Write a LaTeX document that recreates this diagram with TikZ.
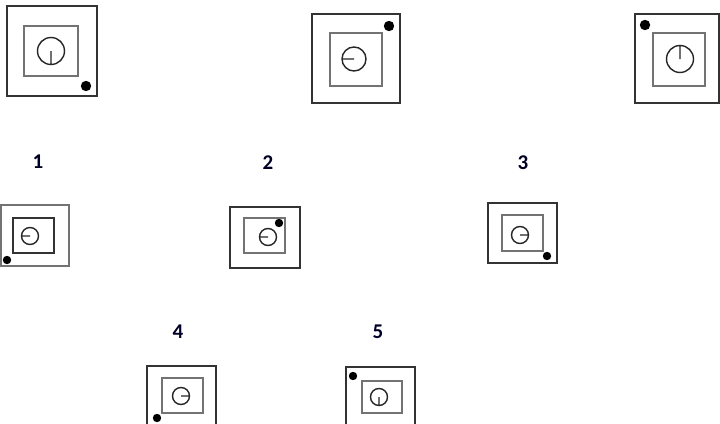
\documentclass[tikz,border=0pt]{standalone}
\usepackage{fontspec}
\newfontfamily\numfont{Carlito Bold}
\begin{document}
\begin{tikzpicture}[x=1pt,y=-1pt,
  outer/.style={draw=black!80,line width=1.8pt},
  outerg/.style={draw=black!55,line width=2pt},
  inner/.style={draw=black!55,line width=2.4pt},
  innerd/.style={draw=black!80,line width=1.4pt},
  dial/.style={draw=black!85,line width=1.4pt},
  dot/.style={fill=black},
  num/.style={font=\numfont\fontsize{21}{21}\selectfont,text=black!85!blue,inner sep=0pt}]
\clip (0,0) rectangle (720,423);
\fill[white] (0,0) rectangle (720,423);
% top figure A
\draw[outer] (7,6) rectangle (97,96);
\draw[inner] (24,26) rectangle (78,76);
\draw[dial] (51,51) circle (13.5) (51,51) -- (51,64.5);
\fill[dot] (86,86) circle (5.2);
% top figure B
\draw[outer] (312,14) rectangle (400,103);
\draw[inner] (330,33) rectangle (382,86);
\draw[dial] (354,59) circle (12) (354,59) -- (342,59);
\fill[dot] (389,26) circle (5.2);
% top figure C
\draw[outer] (635,14) rectangle (719,103);
\draw[inner] (653,33) rectangle (705,86);
\draw[dial] (680,59) circle (13.5) (680,59) -- (680,45.5);
\fill[dot] (645,25) circle (5.2);
% labels
\node[num] (n1) at (38,162) {1};
\node[num] (n2) at (268,163) {2};
\node[num] (n3) at (523,163) {3};
\node[num] (n4) at (178,332) {4};
\node[num] (n5) at (378,332) {5};
% option 1
\draw[outerg] (1,205) rectangle (69,266);
\draw[innerd] (13,218) rectangle (54,253);
\draw[dial] (30,236) circle (8.5) (30,236) -- (21.5,236);
\fill[dot] (7,260) circle (4.2);
% option 2
\draw[outer] (230,207) rectangle (300,268);
\draw[inner] (244,218) rectangle (285,253);
\draw[dial] (268,237) circle (8.5) (268,237) -- (259.5,237);
\fill[dot] (279,223) circle (4.2);
% option 3
\draw[outer] (488,203) rectangle (557,263);
\draw[inner] (502,215) rectangle (543,251);
\draw[dial] (520,235) circle (8.5) (520,235) -- (528.5,235);
\fill[dot] (547,256) circle (4.2);
% option 4
\draw[outer] (147,430) -- (147,366) -- (216,366) -- (216,430);
\draw[inner] (162,378) rectangle (203,413);
\draw[dial] (181,396) circle (8.5) (181,396) -- (189.5,396);
\fill[dot] (157,418) circle (4.2);
% option 5
\draw[outer] (346,430) -- (346,367) -- (415,367) -- (415,430);
\draw[inner] (362,381) rectangle (402,413);
\draw[dial] (379,397) circle (8.5) (379,397) -- (379,405.5);
\fill[dot] (353,376) circle (4.2);
\end{tikzpicture}
\end{document}
